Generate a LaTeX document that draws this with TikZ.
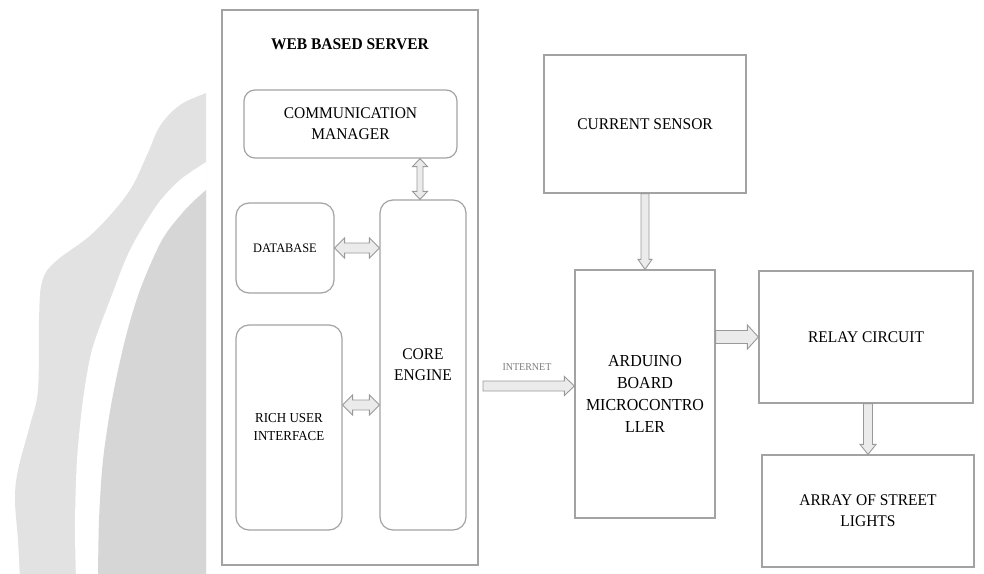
\documentclass[tikz,border=0pt]{standalone}
\usepackage{fontspec}
\setmainfont[FakeStretch=0.95]{Liberation Serif}
\usetikzlibrary{calc}

\definecolor{edge}{HTML}{A3A3A3}
\definecolor{arrowfill}{HTML}{EBEBEB}
\definecolor{arrowedge}{HTML}{999999}
\definecolor{sealouter}{HTML}{E2E2E2}
\definecolor{sealinner}{HTML}{D6D6D6}
\definecolor{netlabel}{HTML}{7C7C7C}

% Hollow block arrow: [style]{from}{to}{shaft half-width}{head half-width}{head length}
\newcommand\fatarrow[6][]{%
  \coordinate (fa-s) at (#2);
  \coordinate (fa-t) at (#3);
  \coordinate (fa-n) at ($(fa-t)!#6!(fa-s)$);
  \draw[fat,#1] ($(fa-s)!#4!90:(fa-t)$) -- ($(fa-n)!#4!-90:(fa-s)$)
    -- ($(fa-n)!#5!-90:(fa-s)$) -- (fa-t) -- ($(fa-n)!#5!90:(fa-s)$)
    -- ($(fa-n)!#4!90:(fa-s)$) -- ($(fa-s)!#4!-90:(fa-t)$) -- cycle;}

% Hollow block arrow with a head at both ends
\newcommand\fatdarrow[6][]{%
  \coordinate (fa-s) at (#2);
  \coordinate (fa-t) at (#3);
  \coordinate (fa-m) at ($(fa-s)!#6!(fa-t)$);
  \coordinate (fa-n) at ($(fa-t)!#6!(fa-s)$);
  \draw[fat,#1] (fa-s) -- ($(fa-m)!#5!90:(fa-t)$) -- ($(fa-m)!#4!90:(fa-t)$)
    -- ($(fa-n)!#4!-90:(fa-s)$) -- ($(fa-n)!#5!-90:(fa-s)$) -- (fa-t)
    -- ($(fa-n)!#5!90:(fa-s)$) -- ($(fa-n)!#4!90:(fa-s)$)
    -- ($(fa-m)!#4!-90:(fa-t)$) -- ($(fa-m)!#5!-90:(fa-t)$) -- cycle;}

\tikzset{
  box/.style={draw=edge, line width=1.2pt, fill=white, inner sep=0pt,
    align=center, font=\fontsize{16.3pt}{21pt}\selectfont},
  rbox/.style={box, rounded corners=13pt},
  title/.style={font=\fontsize{16.3pt}{21pt}\selectfont\bfseries},
  fat/.style={draw=arrowedge, fill=arrowfill, line width=0.9pt, line join=miter},
}

\begin{document}
\begin{tikzpicture}[x=1pt, y=-1pt]
\useasboundingbox (0,0) rectangle (984,573);

% faint seal in the background
\begin{scope}
  \clip (0,0) rectangle (206,573);
  \fill[sealouter] plot[smooth, tension=0.6] coordinates {(212,90) (206,93) (180,105) (160,126)
    (147,155) (128,193) (93,233) (55,262) (42,282) (39,320) (38,390) (30,425) (18,470)
    (15,500) (18,540) (20,580)} -- (212,580) -- cycle;
  \fill[white] plot[smooth] coordinates {(215,155) (206,162) (180,180) (157,205) (130,250)
    (110,300) (92,350) (83,400) (77,460) (75,524) (76,580)} -- (215,580) -- cycle;
  \fill[sealinner] plot[smooth] coordinates {(215,184) (206,190) (185,210) (162,240) (140,290)
    (125,340) (112,400) (103,460) (99,520) (98,580)} -- (215,580) -- cycle;
\end{scope}

% web based server
\node[box, minimum width=256pt, minimum height=555pt] (server) at (350,287.5) {};
\node[title] (title) at (350,44) {WEB BASED SERVER};
\node[rbox, rounded corners=11pt, minimum width=213pt, minimum height=68pt] (comm) at (350.5,124)
  {COMMUNICATION\\MANAGER};
\node[rbox, minimum width=98pt, minimum height=90pt, font=\fontsize{13pt}{16pt}\selectfont]
  (db) at (285,248) {DATABASE};
\node[rbox, minimum width=86pt, minimum height=330pt] (core) at (423,365) {CORE\\ENGINE};
\node[rbox, minimum width=106pt, minimum height=205pt, font=\fontsize{13.7pt}{18pt}\selectfont]
  (rui) at (289,427.5) {RICH USER\\INTERFACE};

% field side
\node[box, minimum width=202pt, minimum height=138pt] (sensor) at (645,124) {CURRENT SENSOR};
\node[box, minimum width=140pt, minimum height=248pt, font=\fontsize{16.8pt}{22pt}\selectfont]
  (arduino) at (645,394) {ARDUINO\\BOARD\\MICROCONTRO\\LLER};
\node[box, minimum width=214pt, minimum height=132pt] (relay) at (866,337) {RELAY CIRCUIT};
\node[box, minimum width=212pt, minimum height=112pt] (lights) at (868,511)
  {ARRAY OF STREET\\LIGHTS};

% connectors
\fatdarrow{comm.south -| 420,0}{core.north -| 420,0}{3pt}{7.5pt}{8pt}
\fatdarrow{db.east}{core.west |- db.east}{5pt}{10pt}{10pt}
\fatdarrow{rui.east |- 0,405}{core.west |- 0,405}{5pt}{10pt}{10pt}

\coordinate (net) at (483,386);
\fatarrow{net}{arduino.west |- net}{5pt}{9.5pt}{10pt}
\node[font=\fontsize{10.5pt}{12pt}\selectfont, text=netlabel] (netlbl) at (527,367) {INTERNET};

\fatarrow{sensor.south}{arduino.north}{4pt}{7pt}{10pt}
\fatarrow{arduino.east |- relay.west}{relay.west}{6.5pt}{12pt}{11pt}
\fatarrow{relay.south -| lights.north}{lights.north}{4.5pt}{8pt}{10pt}
\end{tikzpicture}
\end{document}
